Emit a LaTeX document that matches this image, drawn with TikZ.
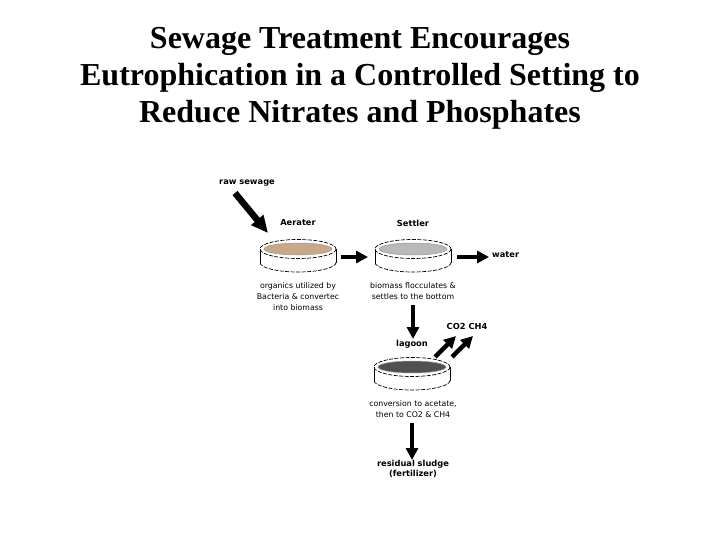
\documentclass[tikz,border=0pt]{standalone}
\usepackage{fontspec}
\setmainfont{Liberation Serif}
\setsansfont{DejaVu Sans}
\usetikzlibrary{arrows.meta}
\definecolor{tanfluid}{RGB}{201,168,137}
\definecolor{grayfluid}{RGB}{185,185,185}
\definecolor{darkfluid}{RGB}{80,80,80}
\tikzset{
  pics/dish/.style={code={
    \fill[#1] (0,0) ellipse [x radius=34, y radius=6];
    \draw[line width=0.7pt, dash pattern=on 4pt off 1.5pt] (0,0) ellipse [x radius=38, y radius=9.5];
    \draw[line width=0.7pt] (-38,0) -- (-38,13.5) (38,0) -- (38,13.5);
    \draw[line width=0.7pt, dash pattern=on 4pt off 1.5pt] (38,13.5) arc [start angle=0, end angle=180, x radius=38, y radius=9.5];
    \draw[line width=0.5pt, darkfluid!60] (0,0) ellipse [x radius=34, y radius=6];
  }},
  title/.style={font=\rmfamily\bfseries\fontsize{32}{37}\selectfont, align=center, inner sep=0},
  lbl/.style={font=\sffamily\fontsize{7.8}{11}\selectfont, align=center, inner sep=0},
  blbl/.style={font=\sffamily\bfseries\fontsize{8.3}{10.5}\selectfont, align=center, inner sep=0},
  fatarrow/.style={line width=4.5pt, -{Triangle[length=12pt,width=12pt]}},
  bigarrow/.style={line width=6.5pt, -{Triangle[length=17pt,width=15pt]}},
}
\begin{document}
\begin{tikzpicture}[x=1pt,y=-1pt]
\useasboundingbox (0,0) rectangle (720,540);
\fill[white] (0,0) rectangle (720,540);

\node[title] (title) at (360,78) {Sewage Treatment Encourages\\Eutrophication in a Controlled Setting to\\Reduce Nitrates and Phosphates};

% dishes
\coordinate (aer) at (298,249);
\coordinate (set) at (413,249);
\coordinate (lag) at (412,367);
\pic at (aer) {dish=tanfluid};
\pic at (set) {dish=grayfluid};
\pic at (lag) {dish=darkfluid};

% labels
\node[blbl] (raw) at (247,183) {raw sewage};
\node[blbl] (aerl) at (298,223) {Aerater};
\node[blbl] (setl) at (413,223) {Settler};
\node[blbl, anchor=west] (water) at (492,255) {water};
\node[lbl] (aert) at (298,297) {organics utilized by\\Bacteria \& convertec\\into biomass};
\node[lbl] (sett) at (413,291) {biomass flocculates \&\\settles to the bottom};
\node[blbl] (gas) at (467,326) {CO2 CH4};
\node[blbl] (lagl) at (412,344) {lagoon};
\node[lbl] (lagt) at (413,409) {conversion to acetate,\\then to CO2 \& CH4};
\node[blbl] (sludge) at (413,469) {residual sludge\\(fertilizer)};

% arrow ends
\coordinate (rsA) at (235,193);
\coordinate (rsB) at (268,233);
\coordinate (a1) at (341,257);
\coordinate (a2) at (368,257);
\coordinate (s1) at (457,257);
\coordinate (s2) at (489,257);
\coordinate (d1) at (413,305);
\coordinate (d2) at (413,339);
\coordinate (c1) at (435,357);
\coordinate (c2) at (456,336);
\coordinate (c3) at (452,357);
\coordinate (c4) at (473,336);
\coordinate (l1) at (412,423);
\coordinate (l2) at (412,460);

\draw[bigarrow] (rsA) -- (rsB);
\draw[fatarrow] (a1) -- (a2);
\draw[fatarrow] (s1) -- (s2);
\draw[fatarrow] (d1) -- (d2);
\draw[fatarrow] (c1) -- (c2);
\draw[fatarrow] (c3) -- (c4);
\draw[fatarrow] (l1) -- (l2);
\end{tikzpicture}
\end{document}
